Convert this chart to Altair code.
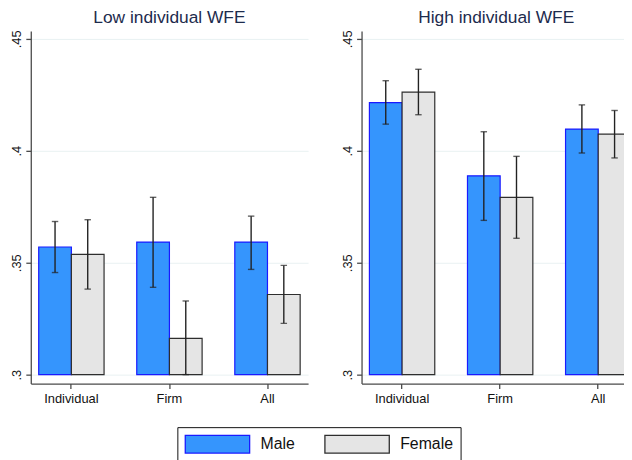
import altair as alt
import pandas as pd

panels = ["Low individual WFE", "High individual WFE"]
groups = ["Individual", "Firm", "All"]
genders = ["Male", "Female"]

low_male = [0.3570, 0.3592, 0.3592]
low_male_lo = [0.3456, 0.3390, 0.3470]
low_male_hi = [0.3684, 0.3792, 0.3708]
low_female = [0.3537, 0.3162, 0.3358]
low_female_lo = [0.3382, 0.3000, 0.3229]
low_female_hi = [0.3692, 0.3329, 0.3488]

high_male = [0.4215, 0.3888, 0.4097]
high_male_lo = [0.4119, 0.3689, 0.3990]
high_male_hi = [0.4313, 0.4085, 0.4205]
high_female = [0.4262, 0.3792, 0.4074]
high_female_lo = [0.4161, 0.3609, 0.3968]
high_female_hi = [0.4364, 0.3975, 0.4180]

rows = []
series = [
    (panels[0], "Male", low_male, low_male_lo, low_male_hi),
    (panels[0], "Female", low_female, low_female_lo, low_female_hi),
    (panels[1], "Male", high_male, high_male_lo, high_male_hi),
    (panels[1], "Female", high_female, high_female_lo, high_female_hi),
]
for p, g, vals, los, his in series:
    for grp, v, lo, hi in zip(groups, vals, los, his):
        rows.append({"panel": p, "group": grp, "gender": g, "value": v, "lo": lo, "hi": hi})
df = pd.DataFrame(rows)

FONT = "Liberation Sans"
AXIS_COLOR = "#4a4a4a"
fill_scale = alt.Scale(domain=genders, range=["#3595fd", "#e5e5e5"])
stroke_scale = alt.Scale(domain=genders, range=["#1a1aff", "#2e2e2e"])


def panel(name, width, pad_outer, align):
    base = alt.Chart(df[df["panel"] == name])
    x = alt.X(
        "group:N",
        sort=groups,
        scale=alt.Scale(paddingInner=1 / 3, paddingOuter=pad_outer, align=align),
        axis=alt.Axis(
            title=None, labelAngle=0, labelFont=FONT, labelFontSize=13,
            labelColor="#111", tickSize=5, tickColor=AXIS_COLOR, domainColor=AXIS_COLOR,
            domainWidth=1.3, tickWidth=1.3, labelPadding=4, grid=False,
        ),
    )
    xo = alt.XOffset("gender:N", sort=genders, scale=alt.Scale(paddingInner=0, paddingOuter=0))
    yscale = alt.Scale(domain=[0.296, 0.4535], nice=False, zero=False)
    y = alt.Y(
        "value:Q",
        scale=yscale,
        axis=alt.Axis(
            title=None, values=[0.3, 0.35, 0.4, 0.45],
            labelExpr="substring(format(datum.value, '.2~f'), 1)",
            labelAngle=-90, labelAlign="center", labelBaseline="bottom",
            labelFont=FONT, labelFontSize=13, labelColor="#111", labelPadding=2,
            tickSize=5, tickColor=AXIS_COLOR, domainColor=AXIS_COLOR,
            domainWidth=1.3, tickWidth=1.3, grid=True, gridColor="#e9f1f2", gridWidth=1,
        ),
    )
    bars = base.mark_bar(strokeWidth=1.2).encode(
        x=x, xOffset=xo, y=y, y2=alt.datum(0.3),
        fill=alt.Fill("gender:N", scale=fill_scale, sort=genders, legend=alt.Legend(title=None)),
        stroke=alt.Stroke("gender:N", scale=stroke_scale, sort=genders, legend=alt.Legend(title=None)),
    )
    rules = base.mark_rule(color="#222", strokeWidth=1.4).encode(
        x=x, xOffset=xo, y=alt.Y("lo:Q", scale=yscale), y2="hi:Q"
    )
    cap_lo = base.mark_tick(color="#222", size=6.5, thickness=1.4).encode(
        x=x, xOffset=xo, y=alt.Y("lo:Q", scale=yscale)
    )
    cap_hi = base.mark_tick(color="#222", size=6.5, thickness=1.4).encode(
        x=x, xOffset=xo, y=alt.Y("hi:Q", scale=yscale)
    )
    return alt.layer(bars, rules, cap_lo, cap_hi).properties(
        width=width, height=356,
        title=alt.TitleParams(name, font=FONT, fontSize=17.5, fontWeight="normal",
                              color="#1d2b4d", anchor="middle", offset=3),
    )


left = panel(panels[0], 280, 0.0808, 0.5)
right = panel(panels[1], 272, 0.04, 1.0)

chart = alt.hconcat(left, right, spacing=34).resolve_scale(
    x="independent", y="independent"
).properties(padding={"left": 3, "top": -1, "right": -8, "bottom": 0}).configure_view(
    stroke=None
).configure_legend(
    orient="none", legendX=148, legendY=400, direction="horizontal",
    strokeColor="#111", strokeWidth=1, padding=7,
    symbolType="M-1,-1L6.222,-1L6.222,1L-1,1Z", symbolSize=324,
    symbolStrokeWidth=1.3, labelFont=FONT, labelFontSize=16, labelColor="#111",
    labelOffset=57, columnPadding=27,
)

chart.save("out.html", embed_options={"renderer": "svg", "actions": False})
